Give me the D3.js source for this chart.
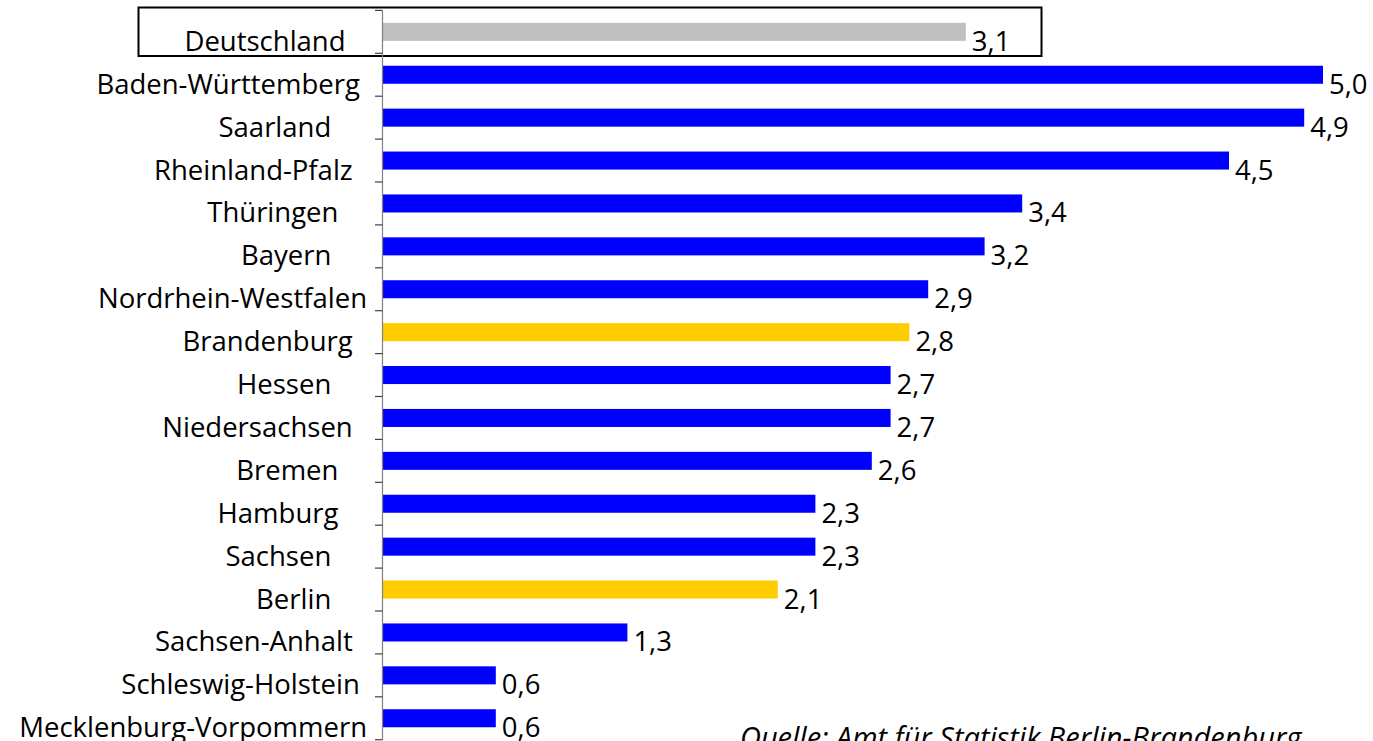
<!DOCTYPE html>
<html>
<head>
<meta charset="utf-8">
<script src="https://cdn.jsdelivr.net/npm/d3@7/dist/d3.min.js"></script>
<style>
  html, body { margin: 0; padding: 0; background: #fff; overflow: hidden; }
  svg text { font-family: "Open Sans", sans-serif; white-space: pre; }
</style>
</head>
<body>
<svg id="chart" width="1373" height="741"></svg>
<script>
// Categories (trailing spaces as in the original labels)
const categories = [
  "Deutschland   ",
  "Baden-Württemberg ",
  "Saarland     ",
  "Rheinland-Pfalz  ",
  "Thüringen    ",
  "Bayern     ",
  "Nordrhein-Westfalen",
  "Brandenburg  ",
  "Hessen     ",
  "Niedersachsen  ",
  "Bremen    ",
  "Hamburg    ",
  "Sachsen     ",
  "Berlin     ",
  "Sachsen-Anhalt  ",
  "Schleswig-Holstein ",
  "Mecklenburg-Vorpommern"
];
const values = [3.1, 5.0, 4.9, 4.5, 3.4, 3.2, 2.9, 2.8, 2.7, 2.7, 2.6, 2.3, 2.3, 2.1, 1.3, 0.6, 0.6];
const groups = ["total", "land", "land", "land", "land", "land", "land", "region", "land", "land", "land", "land", "land", "region", "land", "land", "land"];
const sourceText = "Quelle: Amt für Statistik Berlin-Brandenburg";

const colors = { total: "#c0c0c0", land: "#0000ff", region: "#ffcc00" };
const de = d3.formatLocale({ decimal: ",", thousands: ".", grouping: [3], currency: ["", " €"] });
const fmt = de.format(".1f");

const data = categories.map((c, i) => ({ c, v: values[i], g: groups[i] }));

const svg = d3.select("#chart");
svg.append("rect").attr("width", 1373).attr("height", 741).attr("fill", "#fff");

const x = d3.scaleLinear().domain([0, 5]).range([383, 1323]);
const y = d3.scaleBand().domain(categories).range([10.4, 739.7])
  .paddingInner(0.58).paddingOuter(0.29);
const step = y.step();
const bw = y.bandwidth();
const bandTop = c => y(c) - step * 0.29;

// Box around Deutschland
svg.append("rect")
  .attr("x", 138.5).attr("y", 7.5)
  .attr("width", 903).attr("height", 48.5)
  .attr("fill", "none").attr("stroke", "#000").attr("stroke-width", 2);

// Bars
svg.append("g").selectAll("rect").data(data).join("rect")
  .attr("x", x(0))
  .attr("y", d => y(d.c))
  .attr("width", d => x(d.v) - x(0))
  .attr("height", bw)
  .attr("fill", d => colors[d.g]);

// Axis line + ticks at band boundaries
const ax = svg.append("g");
ax.append("line")
  .attr("x1", 382.5).attr("x2", 382.5)
  .attr("y1", y.range()[0]).attr("y2", y.range()[1])
  .attr("stroke", "#808080").attr("stroke-width", 1.2);
const tickYs = categories.map(c => bandTop(c)).concat([y.range()[1]]);
ax.selectAll("line.tick").data(tickYs).join("line")
  .attr("class", "tick")
  .attr("x1", 375).attr("x2", 382.5)
  .attr("y1", d => d).attr("y2", d => d)
  .attr("stroke", "#404040").attr("stroke-width", 1.2);

// Category labels
svg.append("g").selectAll("text").data(data).join("text")
  .attr("xml:space", "preserve")
  .attr("x", 367)
  .attr("y", d => y(d.c) + bw + 10)
  .attr("text-anchor", "end")
  .attr("font-size", 27.5)
  .attr("fill", "#000")
  .text(d => d.c);

// Value labels
svg.append("g").selectAll("text").data(data).join("text")
  .attr("x", d => x(d.v) + 6)
  .attr("y", d => y(d.c) + bw + 10)
  .attr("font-size", 27.5)
  .attr("fill", "#000")
  .text(d => fmt(d.v));

// Source
svg.append("text")
  .attr("x", 740).attr("y", 748)
  .attr("font-size", 29).attr("font-style", "italic")
  .attr("fill", "#000")
  .text(sourceText);
</script>
</body>
</html>
